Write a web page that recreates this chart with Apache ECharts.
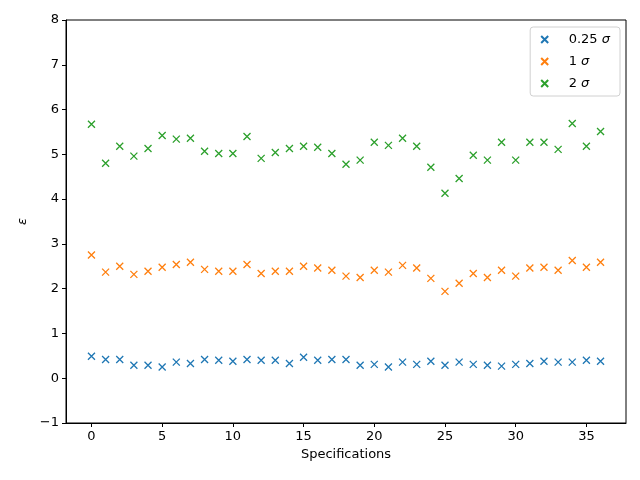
<!DOCTYPE html>
<html><head><meta charset="utf-8">
<script src="https://cdn.jsdelivr.net/npm/echarts@6/dist/echarts.min.js"></script>
<style>html,body{margin:0;padding:0;background:#fff}#c{width:640px;height:480px}</style>
</head><body><div id="c"></div>
<script>
const specs = Array.from({length:37},(_,i)=>i);
const s025 = [0.49,0.42,0.42,0.29,0.29,0.25,0.36,0.33,0.42,0.40,0.38,0.42,0.40,0.40,0.33,0.47,0.40,0.42,0.42,0.29,0.31,0.25,0.36,0.31,0.38,0.29,0.36,0.31,0.29,0.27,0.31,0.33,0.38,0.36,0.36,0.40,0.38];
const s1 = [2.75,2.37,2.50,2.32,2.39,2.48,2.54,2.59,2.43,2.39,2.39,2.54,2.34,2.39,2.39,2.50,2.46,2.41,2.28,2.25,2.41,2.37,2.52,2.46,2.23,1.94,2.12,2.34,2.25,2.41,2.28,2.46,2.48,2.41,2.63,2.48,2.59];
const s2 = [5.67,4.80,5.18,4.96,5.13,5.42,5.34,5.36,5.07,5.02,5.02,5.40,4.91,5.04,5.13,5.18,5.16,5.02,4.78,4.87,5.27,5.20,5.36,5.18,4.71,4.13,4.46,4.98,4.87,5.27,4.87,5.27,5.27,5.11,5.69,5.18,5.51];
const names = ['0.25','1','2'];
const colors = ['#1f77b4','#ff7f0e','#2ca02c'];
const xTicks = [0,5,10,15,20,25,30,35];
const yTicks = [-1,0,1,2,3,4,5,6,7,8];
const font = 'DejaVu Sans';
const xSym = 'path://M0,0L10,10M10,0L0,10';
const sets = [s025,s1,s2];
const chart = echarts.init(document.getElementById('c'),null,{renderer:'canvas'});
chart.setOption({
  animation:false,
  grid:{left:66,right:14,top:20,bottom:57,show:true,borderColor:'#000',borderWidth:1,backgroundColor:'transparent'},
  legend:{
    right:20,top:27,orient:'vertical',itemGap:9,itemWidth:38,itemHeight:7,
    padding:[6,10,6,10],
    borderColor:'#d0d0d0',borderWidth:1,borderRadius:3,backgroundColor:'rgba(255,255,255,0.8)',
    textStyle:{fontFamily:font,fontSize:13,color:'#000',
      rich:{n:{fontFamily:font,fontSize:13},s:{fontFamily:font,fontSize:13,fontStyle:'italic'}}},
    formatter:function(n){return '{n|'+n.split(' ')[0]+' }{s|σ}';},
    data:names.map(n=>n+' σ')
  },
  xAxis:{type:'value',min:-1.8,max:37.8,
    name:'Specifications',nameLocation:'middle',nameGap:22,
    nameTextStyle:{fontFamily:font,fontSize:13,color:'#000'},
    axisLine:{show:true,onZero:false,lineStyle:{color:'#000'}},
    axisTick:{show:true,length:4,lineStyle:{color:'#000'},customValues:xTicks},
    axisLabel:{fontFamily:font,fontSize:13,color:'#000',margin:7,customValues:xTicks},
    splitLine:{show:false}},
  yAxis:{type:'value',min:-1,max:8,interval:1,
    name:'ε',nameLocation:'middle',nameGap:33,nameRotate:90,
    nameTextStyle:{fontFamily:font,fontSize:13,color:'#000',fontStyle:'italic'},
    axisLine:{show:true,onZero:false,lineStyle:{color:'#000'}},
    axisTick:{show:true,length:4,lineStyle:{color:'#000'}},
    axisLabel:{fontFamily:font,fontSize:13,color:'#000',margin:7,showMinLabel:true,showMaxLabel:true,
      formatter:v=>v<0?'\u2212'+(-v):String(v)},
    splitLine:{show:false}},
  series:sets.map((d,k)=>({
    name:names[k]+' σ',type:'scatter',symbol:xSym,symbolSize:7,
    itemStyle:{color:'rgba(0,0,0,0)',borderColor:colors[k],borderWidth:1.3,opacity:1},
    data:specs.map((x,i)=>[x,d[i]])
  }))
});
</script></body></html>
